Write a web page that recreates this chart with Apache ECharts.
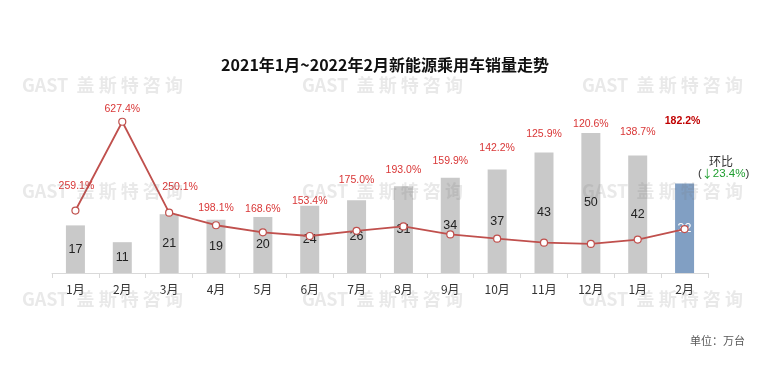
<!DOCTYPE html>
<html><head><meta charset="utf-8">
<script src="https://cdn.jsdelivr.net/npm/echarts@6/dist/echarts.min.js"></script>
<style>html,body{margin:0;padding:0;background:#fff}#c{width:770px;height:383px}</style>
</head><body><div id="c"></div>
<script>
var categories = ['1月','2月','3月','4月','5月','6月','7月','8月','9月','10月','11月','12月','1月','2月'];
var sales = [17, 11, 21, 19, 20, 24, 26, 31, 34, 37, 43, 50, 42, 32];
var yoy = [259.1, 627.4, 250.1, 198.1, 168.6, 153.4, 175.0, 193.0, 159.9, 142.2, 125.9, 120.6, 138.7, 182.2];
var momText = '23.4%';

// label placement styling (pixel offsets for growth labels)
var yoyLabelOffsets = [[1,-24],[0,-13],[11,-26],[0,-17],[0,-23],[0,-35],[0,-51],[0,-56],[0,-73],[0,-91],[0,-109],[0,-120],[0,-107],[-2,-108]];

var FONT = '"Noto Sans CJK SC", "Noto Sans", sans-serif';
var NUM = '"Liberation Sans", Arial, sans-serif';
var chart = echarts.init(document.getElementById('c'));

var barData = sales.map(function (v, i) {
  var last = i === sales.length - 1;
  return {
    value: v,
    itemStyle: { color: last ? '#819FC3' : '#C9C9C9' },
    label: last ? { color: '#ffffff' } : undefined
  };
});
var lineData = yoy.map(function (v, i) {
  var last = i === yoy.length - 1;
  return {
    value: v,
    label: {
      offset: yoyLabelOffsets[i],
      color: last ? '#C00000' : '#D93636',
      fontWeight: last ? 'bold' : 'normal'
    }
  };
});

function wm(x, y) {
  return {
    type: 'text', left: x, top: y - 12, z: 100, silent: true,
    style: { text: 'GAST  盖 斯 特 咨 询', fill: 'rgba(120,120,120,0.16)', font: 'bold 18px ' + FONT }
  };
}

chart.setOption({
  animation: false,
  backgroundColor: '#ffffff',
  title: {
    text: '2021年1月~2022年2月新能源乘用车销量走势',
    left: 'center', top: 52,
    textStyle: { fontFamily: FONT, fontSize: 16, fontWeight: 'bold', color: '#111' }
  },
  grid: { left: 52, right: 62, top: 77, bottom: 110 },
  xAxis: {
    type: 'category', data: categories,
    axisLine: { lineStyle: { color: '#D9D9D9' } },
    axisTick: { show: true, length: 5, lineStyle: { color: '#D9D9D9' } },
    axisLabel: { color: '#333', fontSize: 12, fontFamily: FONT, margin: 10 }
  },
  yAxis: [
    { type: 'value', min: 0, max: 70, show: false },
    { type: 'value', min: 0, max: 813, show: false }
  ],
  series: [
    {
      type: 'bar', data: barData, barWidth: 19, yAxisIndex: 0, z: 2,
      label: { show: true, position: 'inside', color: '#222', fontSize: 12.5, fontFamily: NUM }
    },
    {
      type: 'line', data: lineData, yAxisIndex: 1, z: 3,
      symbol: 'circle', symbolSize: 7,
      lineStyle: { color: '#C0504D', width: 1.8 },
      itemStyle: { color: '#ffffff', borderColor: '#C0504D', borderWidth: 1.2 },
      label: {
        show: true, position: 'inside', fontSize: 10.5, fontFamily: NUM,
        formatter: function (p) { return p.value.toFixed(1) + '%'; }
      }
    }
  ],
  graphic: [
    wm(22, 88), wm(302, 88), wm(582, 88),
    wm(22, 194), wm(302, 194), wm(582, 194),
    wm(22, 302), wm(302, 302), wm(582, 302),
    {
      type: 'text', left: 709, top: 155, z: 110,
      style: { text: '环比', fill: '#333', font: '12px ' + FONT }
    },
    {
      type: 'text', left: 698, top: 168, z: 110,
      style: {
        text: '({a|↓}{g|' + momText + '})',
        fill: '#333', font: '11.5px ' + NUM,
        rich: {
          a: { fill: '#1E9E2E', fontSize: 11, fontFamily: FONT },
          g: { fill: '#1E9E2E', fontSize: 11.5, fontFamily: NUM }
        }
      }
    },
    {
      type: 'text', right: 25, top: 335, z: 110,
      style: { text: '单位：万台', fill: '#595959', font: '11px ' + FONT }
    }
  ]
});
</script>
</body></html>
